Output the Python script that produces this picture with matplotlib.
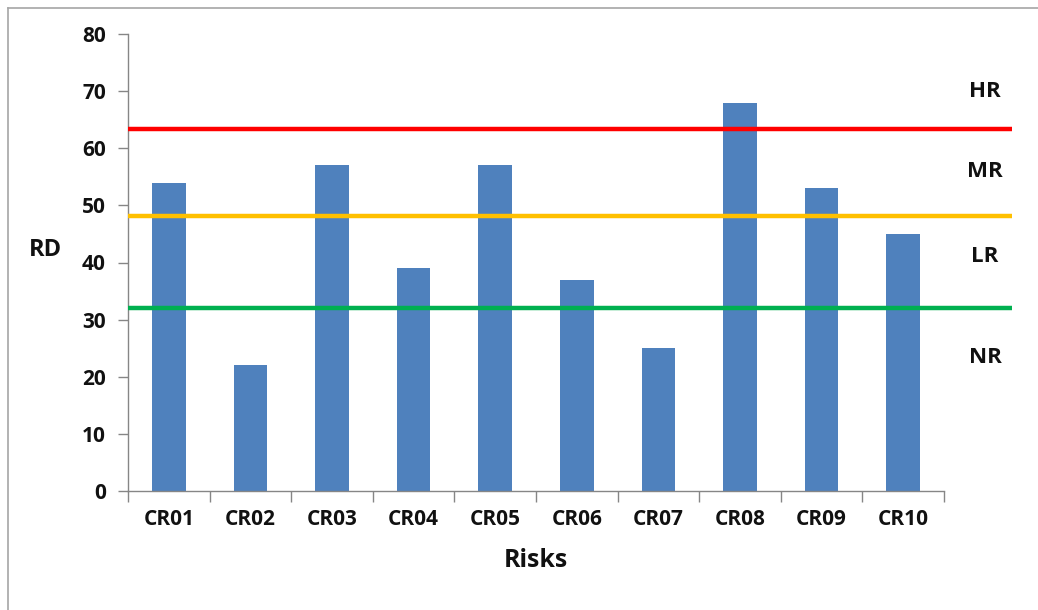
import matplotlib
matplotlib.use("Agg")
import matplotlib.pyplot as plt
from matplotlib.lines import Line2D
import matplotlib.transforms as mtransforms

# Risk degree (RD) per risk item
risks = ["CR01", "CR02", "CR03", "CR04", "CR05", "CR06", "CR07", "CR08", "CR09", "CR10"]
rd_values = [54, 22, 57, 39, 57, 37, 25, 68, 53, 45]

# Threshold lines separating the risk bands
threshold_values = [63.4, 48.2, 32.0]
threshold_colors = ["#FF0000", "#FFC000", "#00B050"]

# Band labels and their vertical placement
band_labels = ["HR", "MR", "LR", "NR"]
band_label_y = [70.0, 55.9, 41.0, 23.3]

plt.rcParams["font.family"] = ["Open Sans", "DejaVu Sans"]
plt.rcParams["font.weight"] = "bold"

W, H = 1038, 610
fig = plt.figure(figsize=(W / 100, H / 100), dpi=100)
fig.patch.set_facecolor("white")

# Outer chart-area frame (left and top edges)
frame_color = "#A6A6A6"
fig.add_artist(Line2D([8 / W, 8 / W], [0, 1 - 8 / H], transform=fig.transFigure,
                      color=frame_color, lw=1.2))
fig.add_artist(Line2D([8 / W, 1], [1 - 8 / H, 1 - 8 / H], transform=fig.transFigure,
                      color=frame_color, lw=1.2))

left, right, top, bottom = 128, 944, 34, 491
ax = fig.add_axes([left / W, 1 - bottom / H, (right - left) / W, (bottom - top) / H])

x = list(range(len(risks)))
ax.bar(x, rd_values, width=0.41, color="#4F81BD", zorder=2)

ax.set_xlim(-0.5, len(risks) - 0.5)
ax.set_ylim(0, 80)
ax.set_yticks(range(0, 81, 10))

# Category boundary ticks on the x axis
ax.set_xticks([i - 0.5 for i in range(len(risks) + 1)], minor=False)
ax.set_xticklabels([])
ax.set_xticks(x, minor=True)
ax.set_xticklabels(risks, minor=True)
ax.tick_params(axis="x", which="major", length=8, width=1, color="#868686", direction="out")
ax.tick_params(axis="x", which="minor", length=0, pad=13, labelsize=15)
ax.tick_params(axis="y", length=7, width=1, color="#868686", direction="out",
               pad=9, labelsize=15)

for lbl in ax.get_xticklabels(minor=True) + ax.get_yticklabels():
    lbl.set_fontweight("bold")
    lbl.set_color("#111111")

for side in ["top", "right"]:
    ax.spines[side].set_visible(False)
for side in ["left", "bottom"]:
    ax.spines[side].set_color("#868686")
    ax.spines[side].set_linewidth(1)

# Threshold lines run past the plot area to the band labels
trans = mtransforms.blended_transform_factory(ax.transAxes, ax.transData)
line_end = (1012 - left) / (right - left)
for val, col in zip(threshold_values, threshold_colors):
    ax.plot([0.0, line_end], [val, val], color=col, lw=3.2, transform=trans,
            clip_on=False, zorder=3, solid_capstyle="butt")

label_x = (985 - left) / (right - left)
for txt, yv in zip(band_labels, band_label_y):
    ax.text(label_x, yv, txt, transform=trans, ha="center", va="center",
            fontsize=16, fontweight="bold", color="#111111")

ax.set_xlabel("Risks", fontsize=18, fontweight="bold", labelpad=13, color="#111111")
ax.set_ylabel("RD", fontsize=17, fontweight="bold", rotation=0, color="#111111")
ax.yaxis.set_label_coords((45 - left) / (right - left), (491 - 262) / (bottom - top))

fig.savefig("out.png", dpi=100, facecolor="white")
